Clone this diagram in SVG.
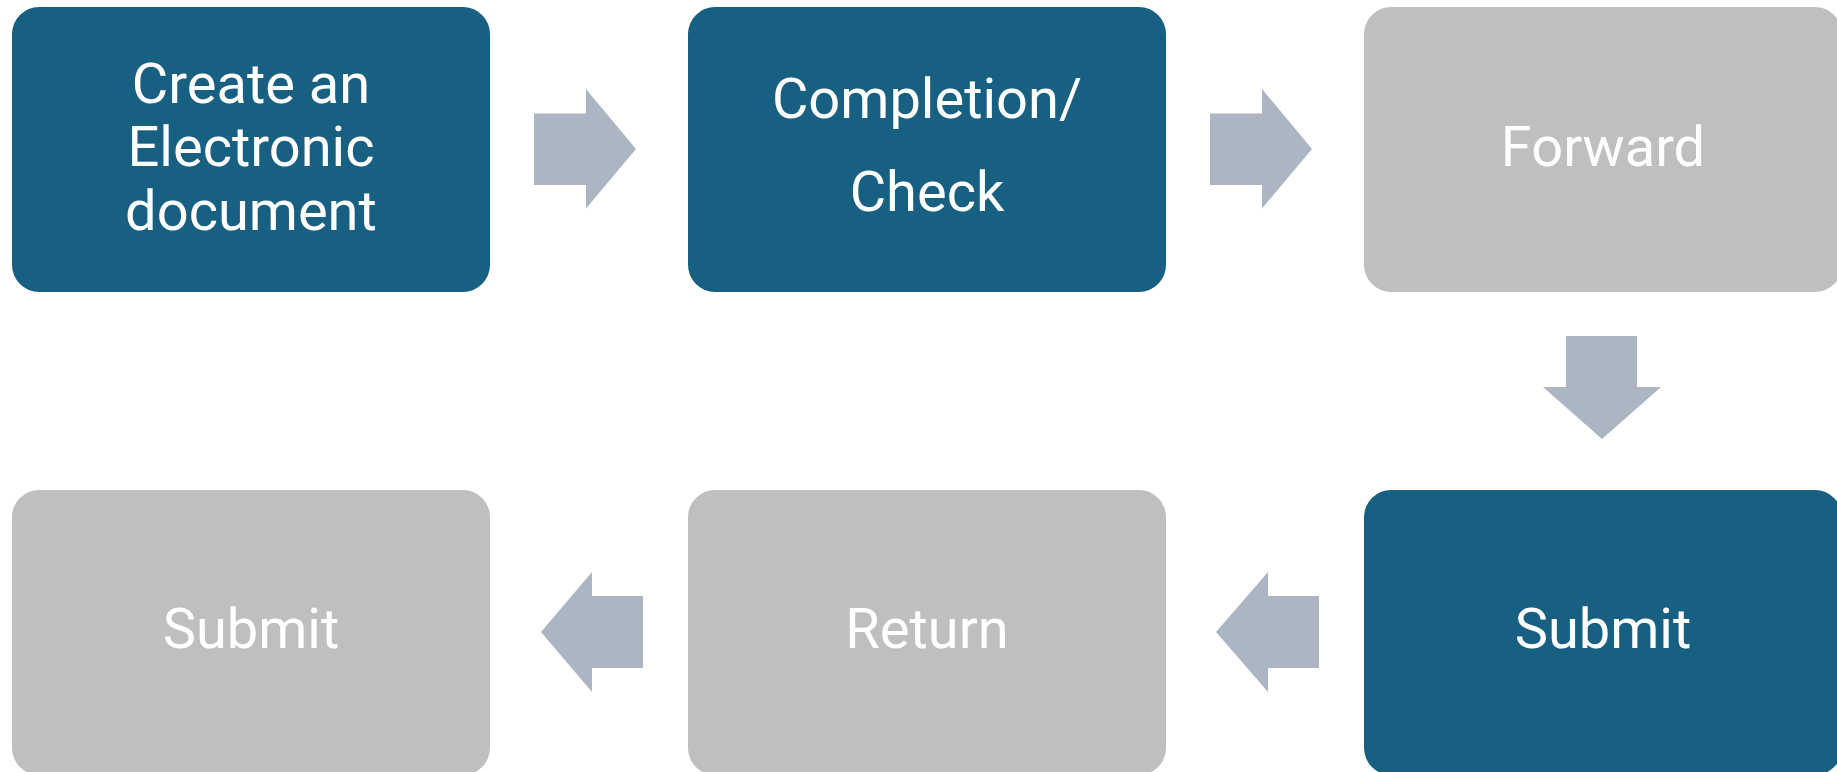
<svg xmlns="http://www.w3.org/2000/svg" width="1837" height="772" viewBox="0 0 1837 772">
<style>
.dark{fill:#186082}
.grey{fill:#BFBFBF}
.arr{fill:#ABB6C2}
text{font-family:Roboto,"Liberation Sans",sans-serif;font-size:56px;fill:#FFFFFF;text-anchor:middle}
</style>
<rect width="1837" height="772" fill="#FFFFFF"/>
<g id="node1"><rect class="dark" x="12" y="7" width="478" height="285" rx="27"/>
<text x="251" y="103">Create an</text><text x="251" y="166">Electronic</text><text x="251" y="230">document</text></g>
<g id="node2"><rect class="dark" x="688" y="7" width="478" height="285" rx="27"/>
<text x="927" y="118">Completion/</text><text x="927" y="211">Check</text></g>
<g id="node3"><rect class="grey" x="1364" y="7" width="478" height="285" rx="27"/>
<text x="1603" y="166">Forward</text></g>
<g id="node4"><rect class="dark" x="1364" y="490" width="478" height="285" rx="27"/>
<text x="1603" y="648">Submit</text></g>
<g id="node5"><rect class="grey" x="688" y="490" width="478" height="285" rx="27"/>
<text x="927" y="648">Return</text></g>
<g id="node6"><rect class="grey" x="12" y="490" width="478" height="285" rx="27"/>
<text x="251" y="648">Submit</text></g>
<g id="connectors">
<polygon class="arr" points="534,113.5 586,113.5 586,89 636,149 586,208.5 586,185 534,185"/>
<polygon class="arr" points="1210,113.5 1262,113.5 1262,89 1312,149 1262,208.5 1262,185 1210,185"/>
<polygon class="arr" points="1566,336 1637,336 1637,387 1661,387 1602,439 1543,387 1566,387"/>
<polygon class="arr" points="1319,596 1268,596 1268,572 1216,632 1268,692 1268,668 1319,668"/>
<polygon class="arr" points="643,596 592,596 592,572 541,632 592,692 592,668 643,668"/>
</g>
</svg>
